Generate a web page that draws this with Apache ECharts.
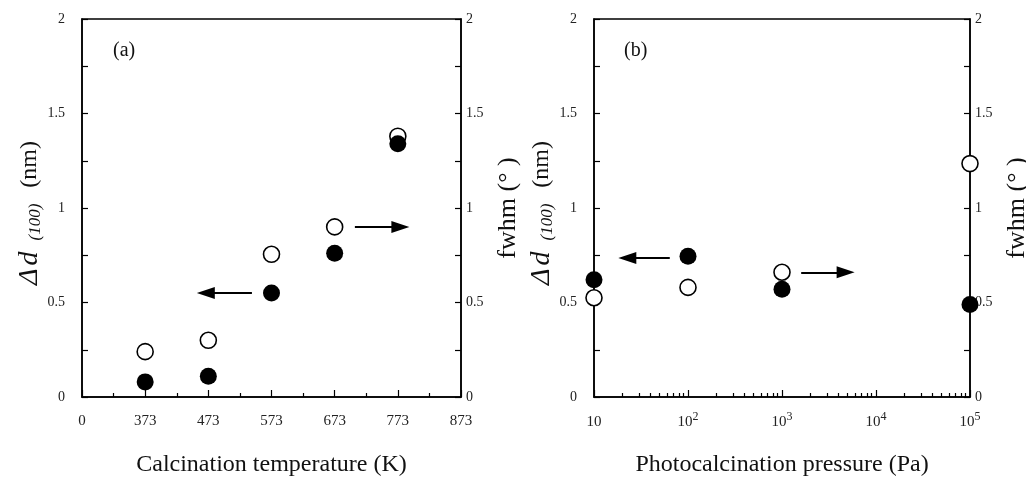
<!DOCTYPE html>
<html>
<head>
<meta charset="utf-8">
<script src="https://cdn.jsdelivr.net/npm/echarts@6/dist/echarts.min.js"></script>
<style>
html,body{margin:0;padding:0;background:#fff;}
#c{width:1026px;height:477px;}
</style>
</head>
<body>
<div id="c"></div>
<script>
// ---- data ----
var xLabelsA = ['0', '373', '473', '573', '673', '773', '873'];
var tempsA = [373, 473, 573, 673, 773];
var deltaA = [0.08, 0.11, 0.55, 0.76, 1.34];
var fwhmA = [0.24, 0.30, 0.755, 0.90, 1.38];

var pressB = [10, 100, 1000, 100000];
var deltaB = [0.62, 0.745, 0.57, 0.49];
var fwhmB = [0.525, 0.58, 0.66, 1.235];

// annotation arrows (data space): [tailX, tailY, headCentreX, headCentreY]
var arrowA_left = [2.69, 0.55, 1.96, 0.55];
var arrowA_right = [4.32, 0.90, 5.04, 0.90];
var arrowB_left = [64, 0.735, 22.6, 0.735];
var arrowB_right = [1600, 0.66, 4750, 0.66];

// ---- chart ----
var FONT = 'Liberation Serif';
var chart = echarts.init(document.getElementById('c'), null, {renderer: 'canvas'});

function yAxisDef(grid, pos, name, gap) {
  return {
    type: 'value', gridIndex: grid, position: pos,
    min: 0, max: 2, interval: 0.5,
    name: name, nameLocation: 'middle', nameRotate: 90, nameGap: gap,
    nameTextStyle: {
      fontFamily: FONT, fontSize: 26, color: '#111',
      rich: {
        dl: {fontFamily: FONT, fontStyle: 'italic', fontSize: 28, color: '#111', padding: [0, 3, 0, 0]},
        dd: {fontFamily: FONT, fontStyle: 'italic', fontSize: 28, color: '#111'},
        sub: {fontFamily: FONT, fontStyle: 'italic', fontSize: 17, color: '#111', padding: [0, 16, 0, 11], verticalAlign: 'bottom'},
        n: {fontFamily: FONT, fontSize: 24, color: '#111', padding: [0, 10, 0, 0]}
      }
    },
    axisLine: {show: true, onZero: false, lineStyle: {color: '#000', width: 1.5}},
    axisTick: {show: true, inside: true, length: 6, lineStyle: {color: '#000', width: 1.2}},
    minorTick: {show: true, splitNumber: 2, length: 6, lineStyle: {color: '#000', width: 1.2}},
    splitLine: {show: false},
    axisLabel: {
      fontFamily: FONT, fontSize: 14, color: '#222',
      margin: pos === 'left' ? 17 : 5,
      formatter: function (v) { return String(v); }
    }
  };
}

var deltaName = '{dl|Δ}{dd|d}{sub|(100)}{n|(nm)}';
var fwhmName = 'fwhm (° )';

function arrowLine(a) {
  return {
    silent: true,
    symbol: ['none', 'triangle'],
    symbolSize: [12, 18],
    animation: false,
    label: {show: false},
    lineStyle: {color: '#000', width: 2, type: 'solid'},
    itemStyle: {color: '#000'},
    data: [[{coord: [a[0], a[1]]}, {coord: [a[2], a[3]]}]]
  };
}

var option = {
  backgroundColor: '#fff',
  animation: false,
  title: [
    {text: '(a)', left: 108, top: 36, textStyle: {fontFamily: FONT, fontSize: 20, fontWeight: 'normal', color: '#111'}},
    {text: '(b)', left: 619, top: 36, textStyle: {fontFamily: FONT, fontSize: 20, fontWeight: 'normal', color: '#111'}}
  ],
  grid: [
    {left: 82, right: 565, top: 19, bottom: 80, outerBoundsMode: 'none', containLabel: false, show: true, borderColor: '#000', borderWidth: 1.5, backgroundColor: 'transparent'},
    {left: 594, right: 56, top: 19, bottom: 80, outerBoundsMode: 'none', containLabel: false, show: true, borderColor: '#000', borderWidth: 1.5, backgroundColor: 'transparent'}
  ],
  xAxis: [
    {
      type: 'value', gridIndex: 0, min: 0, max: xLabelsA.length - 1, interval: 1,
      name: 'Calcination temperature (K)', nameLocation: 'middle', nameGap: 56,
      nameTextStyle: {fontFamily: FONT, fontSize: 24, color: '#111'},
      axisLine: {show: true, onZero: false, lineStyle: {color: '#000', width: 1.5}},
      axisTick: {show: true, inside: true, length: 7, lineStyle: {color: '#000', width: 1.2}},
      minorTick: {show: true, splitNumber: 2, length: 4, lineStyle: {color: '#000', width: 1.2}},
      splitLine: {show: false},
      axisLabel: {
        fontFamily: FONT, fontSize: 15, color: '#222', margin: 17,
        formatter: function (v) { return xLabelsA[Math.round(v)]; }
      }
    },
    {
      type: 'log', logBase: 10, gridIndex: 1, min: 10, max: 100000,
      name: 'Photocalcination pressure (Pa)', nameLocation: 'middle', nameGap: 56,
      nameTextStyle: {fontFamily: FONT, fontSize: 24, color: '#111'},
      axisLine: {show: true, onZero: false, lineStyle: {color: '#000', width: 1.5}},
      axisTick: {show: true, inside: true, length: 7, lineStyle: {color: '#000', width: 1.2}},
      minorTick: {show: true, splitNumber: 9, length: 4, lineStyle: {color: '#000', width: 1.2}},
      splitLine: {show: false},
      axisLabel: {
        fontFamily: FONT, fontSize: 15, color: '#222', margin: 14,
        formatter: function (v) {
          var e = Math.round(Math.log10(v));
          return e === 1 ? '{b|10}{s|\u200b}' : '{b|10}{s|' + e + '}';
        },
        rich: {
          b: {fontFamily: FONT, fontSize: 15, color: '#222', verticalAlign: 'bottom'},
          s: {fontFamily: FONT, fontSize: 12, color: '#222', verticalAlign: 'bottom', padding: [0, 0, 7, 0]}
        }
      }
    }
  ],
  yAxis: [
    yAxisDef(0, 'left', deltaName, 38),
    yAxisDef(0, 'right', fwhmName, 34),
    yAxisDef(1, 'left', deltaName, 38),
    yAxisDef(1, 'right', fwhmName, 34)
  ],
  series: [
    {
      type: 'scatter', xAxisIndex: 0, yAxisIndex: 1, clip: false, z: 2,
      symbol: 'circle', symbolSize: 16,
      itemStyle: {color: '#fff', borderColor: '#000', borderWidth: 1.6, opacity: 1},
      data: tempsA.map(function (t, i) { return [xLabelsA.indexOf(String(t)), fwhmA[i]]; }),
      markLine: arrowLine(arrowA_right)
    },
    {
      type: 'scatter', xAxisIndex: 0, yAxisIndex: 0, clip: false, z: 3,
      symbol: 'circle', symbolSize: 17,
      itemStyle: {color: '#000', opacity: 1},
      data: tempsA.map(function (t, i) { return [xLabelsA.indexOf(String(t)), deltaA[i]]; }),
      markLine: arrowLine(arrowA_left)
    },
    {
      type: 'scatter', xAxisIndex: 1, yAxisIndex: 3, clip: false, z: 2,
      symbol: 'circle', symbolSize: 16,
      itemStyle: {color: '#fff', borderColor: '#000', borderWidth: 1.6, opacity: 1},
      data: pressB.map(function (p, i) { return [p, fwhmB[i]]; }),
      markLine: arrowLine(arrowB_right)
    },
    {
      type: 'scatter', xAxisIndex: 1, yAxisIndex: 2, clip: false, z: 3,
      symbol: 'circle', symbolSize: 17,
      itemStyle: {color: '#000', opacity: 1},
      data: pressB.map(function (p, i) { return [p, deltaB[i]]; }),
      markLine: arrowLine(arrowB_left)
    }
  ]
};
chart.setOption(option);
</script>
</body>
</html>
